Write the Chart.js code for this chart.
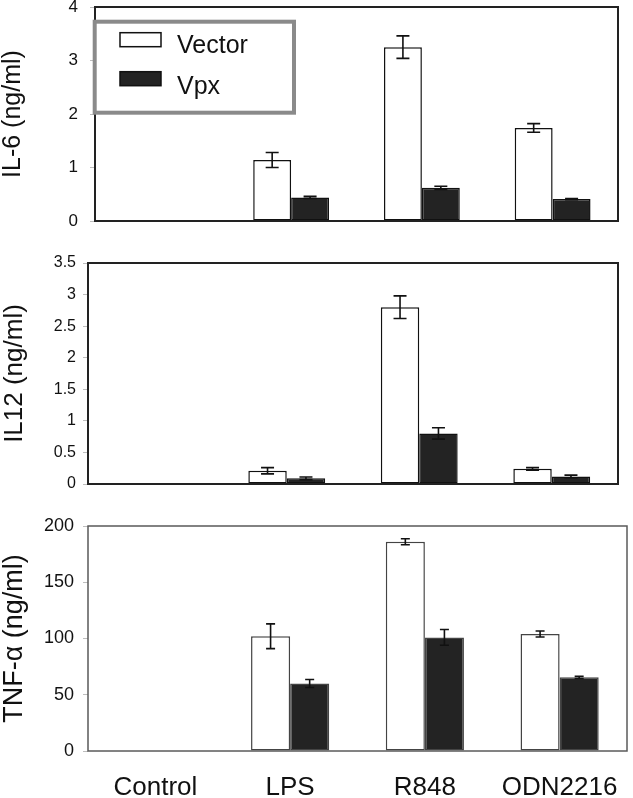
<!DOCTYPE html>
<html><head><meta charset="utf-8">
<script src="https://cdn.jsdelivr.net/npm/chart.js@4/dist/chart.umd.min.js"></script>
<style>
html,body{margin:0;padding:0;background:#fff;width:633px;height:798px;overflow:hidden;position:relative}
canvas{position:absolute;left:0}
</style></head><body>
<canvas id="c1" width="633" height="240" style="top:0px"></canvas>
<canvas id="c2" width="633" height="250" style="top:245px"></canvas>
<canvas id="c3" width="633" height="293" style="top:505px"></canvas>
<script>
// ---------- data ----------
const categories = ['Control', 'LPS', 'R848', 'ODN2216'];
const seriesNames = ['Vector', 'Vpx'];

const il6Vector    = [0, 1.14, 3.25, 1.74];
const il6VectorErr = [0, 0.14, 0.21, 0.08];
const il6Vpx       = [0, 0.44, 0.62, 0.41];
const il6VpxErr    = [0, 0.02, 0.03, 0.01];

const il12Vector    = [0, 0.21, 2.80, 0.24];
const il12VectorErr = [0, 0.05, 0.18, 0.02];
const il12Vpx       = [0, 0.09, 0.80, 0.12];
const il12VpxErr    = [0, 0.02, 0.09, 0.02];

const tnfVector    = [0, 102, 186, 104];
const tnfVectorErr = [0, 11, 2.7, 2.7];
const tnfVpx       = [0, 60, 101, 65.5];
const tnfVpxErr    = [0, 3.5, 7, 1];

const il6Axis  = {title: 'IL-6 (ng/ml)',  max: 4,   step: 1};
const il12Axis = {title: 'IL12 (ng/ml)',  max: 3.5, step: 0.5};
const tnfAxis  = {title: 'TNF-\u03b1 (ng/ml)', max: 200, step: 50};

const FONT = "'Liberation Sans', Arial, Helvetica, sans-serif";

// ---------- plugins ----------
const framePlugin = {
  id: 'frame',
  afterDatasetsDraw(chart, args, o) {
    const {ctx, chartArea: a} = chart;
    ctx.save();
    ctx.strokeStyle = o.color; ctx.lineWidth = o.width;
    ctx.strokeRect(a.left, a.top, a.right - a.left, a.bottom - a.top);
    ctx.restore();
  }
};
const errorPlugin = {
  id: 'errorBars',
  afterDatasetsDraw(chart, args, o) {
    const ctx = chart.ctx, ys = chart.scales.y;
    chart.data.datasets.forEach((ds, di) => {
      const meta = chart.getDatasetMeta(di);
      meta.data.forEach((bar, i) => {
        const v = ds.data[i], e = ds.errors[i];
        if (!v || !e) return;
        const yt = ys.getPixelForValue(v + e), yb = ys.getPixelForValue(v - e);
        ctx.save();
        ctx.strokeStyle = o.color; ctx.lineWidth = o.width;
        ctx.beginPath();
        ctx.moveTo(bar.x, yt); ctx.lineTo(bar.x, yb);
        ctx.moveTo(bar.x - o.cap / 2, yt); ctx.lineTo(bar.x + o.cap / 2, yt);
        ctx.moveTo(bar.x - o.cap / 2, yb); ctx.lineTo(bar.x + o.cap / 2, yb);
        ctx.stroke();
        ctx.restore();
      });
    });
  }
};
const boxLegend = {
  id: 'boxLegend',
  afterDraw(chart, args, o) {
    if (!o.show) return;
    const ctx = chart.ctx, a = chart.chartArea;
    const x0 = a.left - 0.3, y0 = a.top + 14.7, w = 199.3, h = 91;
    ctx.save();
    ctx.fillStyle = '#fff';
    ctx.fillRect(x0, y0, w, h);
    ctx.strokeStyle = '#8a8a8a'; ctx.lineWidth = 4;
    ctx.strokeRect(x0, y0, w, h);
    chart.data.datasets.forEach((ds, i) => {
      const sy = y0 + 11 + i * 39;
      ctx.fillStyle = ds.backgroundColor;
      ctx.fillRect(a.left + 25, sy, 41, 14);
      ctx.strokeStyle = '#111'; ctx.lineWidth = 1.5;
      ctx.strokeRect(a.left + 25, sy, 41, 14);
      ctx.fillStyle = '#111';
      ctx.font = '25px ' + FONT;
      ctx.textBaseline = 'alphabetic';
      ctx.fillText(ds.label, a.left + 82, sy + 20.5 + i * 1.5);
    });
    ctx.restore();
  }
};

// ---------- builder ----------
function makePanel(id, axis, vec, vecErr, vpx, vpxErr, p) {
  const bw = ctx => (ctx.raw ? p.barBorder : 0);
  new Chart(document.getElementById(id), {
    type: 'bar',
    data: {
      labels: categories,
      datasets: [
        {label: seriesNames[0], data: vec, errors: vecErr, backgroundColor: '#ffffff',
         borderColor: p.barColor, borderWidth: bw, borderSkipped: false},
        {label: seriesNames[1], data: vpx, errors: vpxErr, backgroundColor: '#232323',
         borderColor: p.barColor, borderWidth: bw, borderSkipped: false}
      ]
    },
    options: {
      responsive: false, animation: false, devicePixelRatio: 1,
      categoryPercentage: 0.58, barPercentage: 1.0,
      layout: {padding: {left: 0, right: p.padRight, top: p.padTop, bottom: p.padBottom}},
      plugins: {
        legend: {display: false}, tooltip: {enabled: false},
        frame: {color: p.frameColor, width: p.frameWidth},
        errorBars: {color: '#111', width: 1.6, cap: p.cap},
        boxLegend: {show: !!p.legend}
      },
      scales: {
        x: {
          display: p.showX,
          grid: {display: false, drawTicks: false},
          border: {display: false},
          ticks: {color: '#111', padding: 21, maxRotation: 0, autoSkip: false,
                  font: {family: FONT, size: 26, lineHeight: 1.2}},
          afterFit(s) { s.height = p.xHeight || s.height; s.paddingLeft = 0; s.paddingRight = 0; }
        },
        y: {
          min: 0, max: axis.max,
          border: {display: false},
          grid: {drawOnChartArea: false, drawTicks: true, tickLength: 5, color: '#bdbdbd', lineWidth: 1},
          ticks: {stepSize: axis.step, color: '#111', padding: p.tickPad,
                  font: {family: FONT, size: p.tickSize},
                  callback: v => String(Math.round(v * 100) / 100)},
          title: {display: true, text: axis.title, color: '#111',
                  font: {family: FONT, size: p.titleSize, lineHeight: 1.0},
                  padding: {top: p.titlePad, bottom: 0}},
          afterFit(s) { s.width = p.left; s.paddingTop = 0; s.paddingBottom = 0; }
        }
      }
    },
    plugins: [framePlugin, errorPlugin, boxLegend]
  });
}

makePanel('c1', il6Axis, il6Vector, il6VectorErr, il6Vpx, il6VpxErr, {
  left: 95, padRight: 15, padTop: 7, padBottom: 19, showX: false,
  tickPad: 12, tickSize: 17, titleSize: 25, titlePad: 1,
  frameColor: '#222', frameWidth: 2, barColor: '#111', barBorder: 1.5, cap: 13, legend: true
});
makePanel('c2', il12Axis, il12Vector, il12VectorErr, il12Vpx, il12VpxErr, {
  left: 88, padRight: 15, padTop: 18, padBottom: 11, showX: false,
  tickPad: 7, tickSize: 16, titleSize: 26, titlePad: 2,
  frameColor: '#222', frameWidth: 2, barColor: '#111', barBorder: 1.5, cap: 13
});
makePanel('c3', tnfAxis, tnfVector, tnfVectorErr, tnfVpx, tnfVpxErr, {
  left: 88, padRight: 6, padTop: 21, padBottom: 0, showX: true, xHeight: 47,
  tickPad: 9, tickSize: 18, titleSize: 27, titlePad: 1,
  frameColor: '#5a5a5a', frameWidth: 1.5, barColor: '#444', barBorder: 1.5, cap: 9
});
</script>
</body></html>
